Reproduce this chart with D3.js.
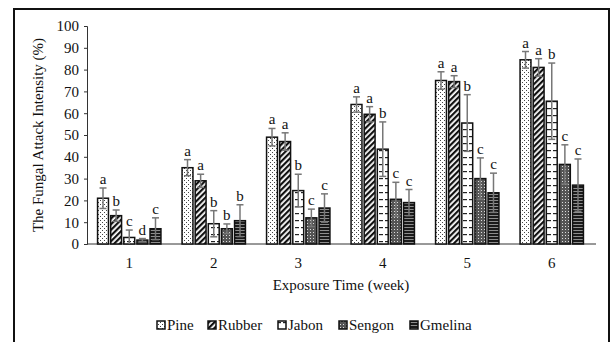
<!DOCTYPE html>
<html>
<head>
<meta charset="utf-8">
<script src="https://cdn.jsdelivr.net/npm/d3@7"></script>
<style>
  body { margin: 0; background: #fff; }
  svg { display: block; }
  svg text { font-family: "Times New Roman", Times, "Liberation Serif", "DejaVu Serif", serif; }
</style>
</head>
<body>
<svg width="611" height="342"></svg>
<script>
// data
const weeks = ["1", "2", "3", "4", "5", "6"];
const species = ["Pine", "Rubber", "Jabon", "Sengon", "Gmelina"];
const pine    = [21, 35, 49, 64, 75, 84.5];
const rubber  = [13, 29, 47, 59.5, 74.5, 81];
const jabon   = [3, 9.3, 24.5, 43.5, 55.5, 65.5];
const sengon  = [1.8, 7, 12, 20.5, 30, 36.5];
const gmelina = [7, 10.7, 16.5, 19, 23.5, 27];
const pineErr    = [4.7, 3.7, 4, 3.5, 4, 3.8];
const rubberErr  = [2.6, 3, 4, 3.5, 2.7, 4];
const jabonErr   = [3.4, 6, 7.5, 12.5, 13, 17.5];
const sengonErr  = [0.7, 2.2, 4, 7.8, 9.5, 9];
const gmelinaErr = [5, 7.3, 6.5, 6, 9, 12];
const letters = [
  ["a", "b", "c", "d", "c"],
  ["a", "a", "b", "b", "b"],
  ["a", "a", "b", "c", "c"],
  ["a", "a", "b", "c", "c"],
  ["a", "a", "b", "c", "c"],
  ["a", "a", "b", "c", "c"]
];
const yTicks = d3.range(0, 101, 10);

const means = [pine, rubber, jabon, sengon, gmelina];
const errs = [pineErr, rubberErr, jabonErr, sengonErr, gmelinaErr];

const svg = d3.select("svg");

// outer frame
svg.append("rect")
  .attr("x", 14).attr("y", 9)
  .attr("width", 595).attr("height", 340)
  .attr("fill", "none").attr("stroke", "#111").attr("stroke-width", 2);

// fill patterns
const defs = svg.append("defs");

const pPine = defs.append("pattern").attr("id", "p0")
  .attr("patternUnits", "userSpaceOnUse").attr("width", 4).attr("height", 4);
pPine.append("rect").attr("width", 4).attr("height", 4).attr("fill", "#fff");
pPine.append("rect").attr("x", 0).attr("y", 0).attr("width", 1).attr("height", 1).attr("fill", "#444");
pPine.append("rect").attr("x", 2).attr("y", 2).attr("width", 1).attr("height", 1).attr("fill", "#444");

const pRub = defs.append("pattern").attr("id", "p1")
  .attr("patternUnits", "userSpaceOnUse").attr("width", 4).attr("height", 4)
  .attr("patternTransform", "rotate(45)");
pRub.append("rect").attr("width", 4).attr("height", 4).attr("fill", "#fff");
pRub.append("rect").attr("width", 2.2).attr("height", 4).attr("fill", "#111");

const pJab = defs.append("pattern").attr("id", "p2")
  .attr("patternUnits", "userSpaceOnUse").attr("width", 6).attr("height", 7);
pJab.append("rect").attr("width", 6).attr("height", 7).attr("fill", "#fff");
pJab.append("rect").attr("x", 1).attr("y", 3).attr("width", 4).attr("height", 1.2).attr("fill", "#222");

const pSen = defs.append("pattern").attr("id", "p3")
  .attr("patternUnits", "userSpaceOnUse").attr("width", 3).attr("height", 3);
pSen.append("rect").attr("width", 3).attr("height", 3).attr("fill", "#555");
pSen.append("rect").attr("x", 1).attr("y", 1).attr("width", 1).attr("height", 1).attr("fill", "#ddd");

const pGme = defs.append("pattern").attr("id", "p4")
  .attr("patternUnits", "userSpaceOnUse").attr("width", 3).attr("height", 3);
pGme.append("rect").attr("width", 3).attr("height", 3).attr("fill", "#1a1a1a");
pGme.append("rect").attr("x", 0).attr("y", 2).attr("width", 3).attr("height", 0.8).attr("fill", "#aaa");

// scales
const x0 = d3.scaleBand().domain(weeks).range([87, 594]).paddingInner(0.25).paddingOuter(0.125);
const x1 = d3.scaleBand().domain(species).range([0, x0.bandwidth()]).paddingInner(0.17);
const y = d3.scaleLinear().domain([0, 100]).range([244, 26]);

// y axis
const yAxis = svg.append("g")
  .attr("transform", "translate(87,0)")
  .call(d3.axisLeft(y).tickValues(yTicks).tickSize(3).tickPadding(5));
yAxis.attr("font-family", null);
yAxis.selectAll("text").attr("font-size", 15).attr("fill", "#111");
yAxis.selectAll("line, path").attr("stroke", "#333");

// x axis
const xAxis = svg.append("g")
  .attr("transform", "translate(0,244)")
  .call(d3.axisBottom(x0).tickSize(0).tickSizeOuter(0).tickPadding(13));
xAxis.attr("font-family", null);
xAxis.select(".domain").attr("stroke", "#333").attr("d", "M87,0H596");
xAxis.selectAll("text").attr("font-size", 15).attr("fill", "#111");

// bars
const rows = [];
weeks.forEach((w, i) => {
  species.forEach((s, j) => {
    rows.push({ w, s, j, v: means[j][i], e: errs[j][i], l: letters[i][j] });
  });
});

const g = svg.append("g");
g.selectAll("rect.bar")
  .data(rows)
  .enter()
  .append("rect")
  .attr("class", "bar")
  .attr("x", d => x0(d.w) + x1(d.s))
  .attr("y", d => y(d.v))
  .attr("width", x1.bandwidth())
  .attr("height", d => y(0) - y(d.v))
  .attr("fill", d => `url(#p${d.j})`)
  .attr("stroke", "#111")
  .attr("stroke-width", 1.5);

// error bars
const cx = d => x0(d.w) + x1(d.s) + x1.bandwidth() / 2;
g.selectAll("line.err")
  .data(rows)
  .enter()
  .append("line")
  .attr("x1", cx).attr("x2", cx)
  .attr("y1", d => y(Math.max(0, d.v - d.e)))
  .attr("y2", d => y(d.v + d.e))
  .attr("stroke", "#777").attr("stroke-width", 1.5);
g.selectAll("line.cap")
  .data(rows)
  .enter()
  .append("line")
  .attr("x1", d => cx(d) - 3.5).attr("x2", d => cx(d) + 3.5)
  .attr("y1", d => y(d.v + d.e)).attr("y2", d => y(d.v + d.e))
  .attr("stroke", "#777").attr("stroke-width", 1.5);
g.selectAll("line.capb")
  .data(rows.filter(d => d.v - d.e > 0))
  .enter()
  .append("line")
  .attr("x1", d => cx(d) - 3.5).attr("x2", d => cx(d) + 3.5)
  .attr("y1", d => y(d.v - d.e)).attr("y2", d => y(d.v - d.e))
  .attr("stroke", "#777").attr("stroke-width", 1.5);

// significance letters
g.selectAll("text.lab")
  .data(rows)
  .enter()
  .append("text")
  .attr("x", cx)
  .attr("y", d => y(d.v + d.e) - 4)
  .attr("text-anchor", "middle")
  .attr("font-size", 15)
  .attr("fill", "#111")
  .text(d => d.l);

// axis titles
svg.append("text")
  .attr("transform", "translate(43,135) rotate(-90)")
  .attr("text-anchor", "middle")
  .attr("font-size", 15)
  .attr("fill", "#111")
  .text("The Fungal Attack Intensity (%)");

svg.append("text")
  .attr("x", 341).attr("y", 290)
  .attr("text-anchor", "middle")
  .attr("font-size", 15)
  .attr("fill", "#111")
  .text("Exposure Time (week)");

// legend
const legendX = [157, 208, 278, 339, 410];
const legend = svg.append("g").attr("transform", "translate(0,326)");
species.forEach((s, j) => {
  legend.append("rect")
    .attr("x", legendX[j]).attr("y", -5)
    .attr("width", 8).attr("height", 8)
    .attr("fill", `url(#p${j})`)
    .attr("stroke", "#111").attr("stroke-width", 1.5);
  legend.append("text")
    .attr("x", legendX[j] + 10).attr("y", 4)
    .attr("font-size", 15)
    .attr("fill", "#111")
    .text(s);
});
</script>
</body>
</html>
